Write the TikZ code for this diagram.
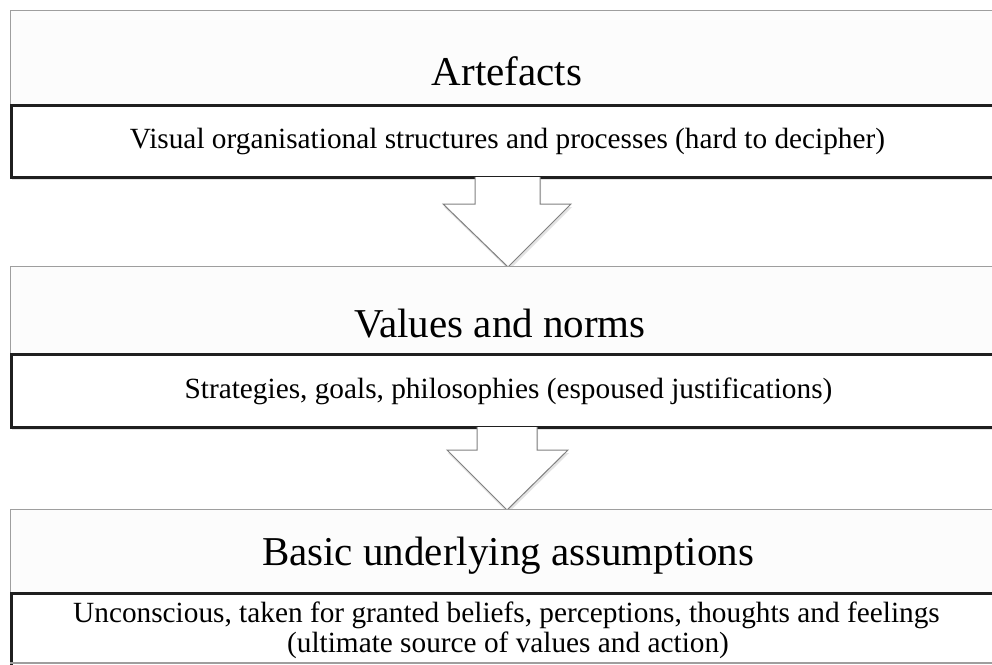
\documentclass[tikz,border=0pt]{standalone}
\usepackage{fontspec}
\setmainfont{Liberation Serif}
\usetikzlibrary{shadows}
\begin{document}
\begin{tikzpicture}[x=1pt,y=-1pt,
  outerbox/.style={draw=black!38, line width=1.3pt, fill=black!1, rectangle, inner sep=0pt, anchor=north west},
  innerbox/.style={draw=black!88, line width=2.6pt, fill=white, rectangle, inner sep=0pt, anchor=north west,
     drop shadow={shadow xshift=1pt, shadow yshift=-3pt, opacity=0.22}},
  title/.style={font=\fontsize{41}{45}\selectfont, anchor=base, inner sep=0pt},
  sub/.style={font=\fontsize{29.3}{32}\selectfont, anchor=base, inner sep=0pt},
  blockarrow/.style={draw=black!50, line width=1pt, fill=white, line join=miter,
     drop shadow={shadow xshift=1pt, shadow yshift=-3pt, opacity=0.22}},
  divline/.style={draw=black!38, line width=1.3pt}
]
\useasboundingbox (0,0) rectangle (992,664);
\clip (0,0) rectangle (992,664);

% Level 1
\node[outerbox, minimum width=990pt, minimum height=166pt] (o1) at (10,10) {};
\node[innerbox, minimum width=990pt, minimum height=72pt] (i1) at (10,104) {};
\node[title] (t1) at (507,85) {Artefacts};
\node[sub] (s1) at (507.5,148) {Visual organisational structures and processes (hard to decipher)};

% Arrow 1
\draw[blockarrow] (475,177) -- (475,204) -- (443,204) -- (508,267) -- (571,204) -- (540,204) -- (540,177);

% Level 2
\node[outerbox, minimum width=990pt, minimum height=160pt] (o2) at (10,266) {};
\node[innerbox, minimum width=990pt, minimum height=73pt] (i2) at (10,353) {};
\node[title] (t2) at (500,337) {Values and norms};
\node[sub] (s2) at (508.5,398) {Strategies, goals, philosophies (espoused justifications)};

% Arrow 2
\draw[blockarrow] (477,427) -- (477,450) -- (447,450) -- (507,510) -- (568,450) -- (537,450) -- (537,427);

% Level 3
\node[outerbox, minimum width=990pt, minimum height=154pt] (o3) at (10,509) {};
\node[innerbox, minimum width=990pt, minimum height=90pt] (i3) at (10,592) {};
\draw[divline] (i3.west |- 0,663) -- (i3.east |- 0,663);
\node[title] (t3) at (508,565) {Basic underlying assumptions};
\node[sub] (s3a) at (506.5,622) {Unconscious, taken for granted beliefs, perceptions, thoughts and feelings};
\node[sub] (s3b) at (508,652) {(ultimate source of values and action)};
\end{tikzpicture}
\end{document}
